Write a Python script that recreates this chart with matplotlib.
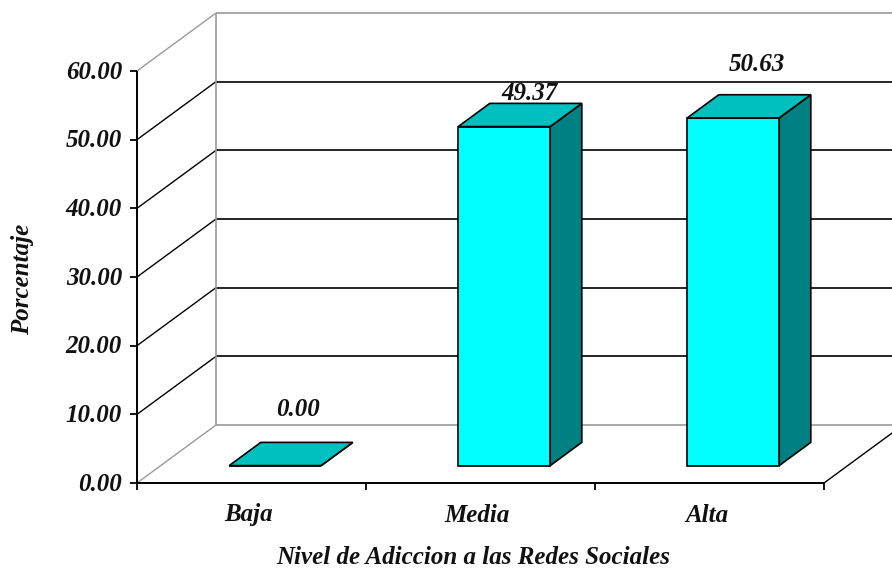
import matplotlib
matplotlib.use("Agg")
import matplotlib.pyplot as plt
from matplotlib.patches import Polygon
import numpy as np

categories = ["Baja", "Media", "Alta"]
values = [0.00, 49.37, 50.63]
yticks = [0, 10, 20, 30, 40, 50, 60]
ylabel = "Porcentaje"
xlabel = "Nivel de Adiccion a las Redes Sociales"

W, H = 892, 569
x_left, x_right = 137, 824
y_zero, y_top = 483, 71
depth_x, depth_y = 79, -58
ymax = 60.0
cat_width = (x_right - x_left) / len(categories)
bar_width = 92
bar_front = 0.30   # where the bars start inside the depth of the box
bar_back = 0.70

# nudges for the value labels, media sits lower because of the gridline
label_dx = [7, 10, 8]
label_dy = [-56, -33, -53]

grey = "#999999"
face_col = "#00ffff"
top_col = "#00bfbf"
side_col = "#008080"


def project(x, val, depth=0.0):
    # oblique projection from chart space into pixels
    px = x + depth * depth_x
    py = y_zero - val / ymax * (y_zero - y_top) + depth * depth_y
    return px, py


def seg(ax, p0, p1, color="black", lw=1.2, z=2):
    ax.plot([p0[0], p1[0]], [p0[1], p1[1]], color=color, lw=lw, zorder=z,
            solid_capstyle="butt")


plt.rcParams["font.family"] = ["Liberation Serif", "DejaVu Serif"]
fig = plt.figure(figsize=(W / 100, H / 100), dpi=100)
ax = fig.add_axes([0, 0, 1, 1])
ax.set_xlim(0, W)
ax.set_ylim(H, 0)
ax.axis("off")

font = dict(fontsize=18, fontweight="bold", fontstyle="italic", color="#111111")

# back wall, side wall diagonals and gridlines
for t in yticks:
    col = grey if t in (yticks[0], yticks[-1]) else "black"
    seg(ax, project(x_left, t), project(x_left, t, 1), color=col, lw=1.0)
    seg(ax, project(x_left, t, 1), project(x_right, t, 1), color=col)
seg(ax, project(x_left, 0, 1), project(x_left, ymax, 1), color=grey)
seg(ax, project(x_right, 0), project(x_right, 0, 1), lw=1.0)

# front axes and ticks
seg(ax, project(x_left, 0), project(x_right, 0), lw=1.4, z=3)
seg(ax, project(x_left, 0), project(x_left, ymax), lw=1.4, z=3)
for t in yticks:
    px, py = project(x_left, t)
    seg(ax, (px - 7, py), (px, py), lw=1.3, z=3)
    ax.text(px - 15, py + 1, "%.2f" % t, ha="right", va="center", **font)
for i in range(len(categories) + 1):
    px, py = project(x_left + i * cat_width, 0)
    seg(ax, (px, py), (px, py + 7), lw=1.3, z=3)

# 3d bars
for i, (name, val) in enumerate(zip(categories, values)):
    mid = x_left + (i + 0.5) * cat_width
    x0, x1 = mid - bar_width / 2, mid + bar_width / 2
    f = bar_front
    b = bar_back
    front = [project(x0, 0, f), project(x1, 0, f), project(x1, val, f), project(x0, val, f)]
    top = [project(x0, val, f), project(x1, val, f), project(x1, val, b), project(x0, val, b)]
    side = [project(x1, 0, f), project(x1, 0, b), project(x1, val, b), project(x1, val, f)]
    for pts, col in ((side, side_col), (front, face_col), (top, top_col)):
        ax.add_patch(Polygon(pts, closed=True, facecolor=col, edgecolor="black",
                             lw=1.2, zorder=5, joinstyle="miter"))

    px, py = project(mid, val, f)
    ax.text(px + (b - f) * depth_x / 2 + label_dx[i], py + label_dy[i],
            "%.2f" % val, ha="center", va="center", zorder=6, **font)
    ax.text(mid - 3, 515, name, ha="center", va="center", **font)

ax.text(23, 279, ylabel, rotation=90, ha="center", va="center", **font)
ax.text(473, 558, xlabel, ha="center", va="center", **font)

fig.savefig("out.png", dpi=100, facecolor="white")
